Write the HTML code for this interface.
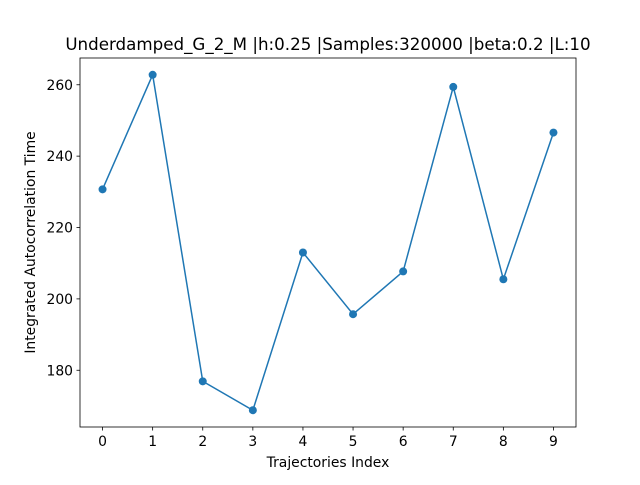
<!DOCTYPE html>
<html><head><meta charset="utf-8"><style>
body{margin:0;background:#fff}
svg text{font-family:"DejaVu Sans","Liberation Sans",sans-serif;fill:#000}
</style></head><body>
<svg id="chart" width="640" height="480" xmlns="http://www.w3.org/2000/svg">
<rect width="640" height="480" fill="#fff"/>
<text x="328" y="50" font-size="16.7" text-anchor="middle">Underdamped_G_2_M |h:0.25 |Samples:320000 |beta:0.2 |L:10</text>
<g id="ticks"></g>
<g id="series"></g>
<rect x="80" y="58" width="496" height="369" fill="none" stroke="#000" stroke-width="0.8"/>
<text x="328" y="467" font-size="13.9" text-anchor="middle">Trajectories Index</text>
<text transform="translate(35,242.5) rotate(-90)" font-size="13.9" text-anchor="middle">Integrated Autocorrelation Time</text>
</svg>
<script>
const categories=[0,1,2,3,4,5,6,7,8,9];
const values=[230.7,262.8,176.9,168.8,213.0,195.7,207.7,259.4,205.5,246.6];
const yTicks=[180,200,220,240,260];
const NS="http://www.w3.org/2000/svg";
const x0=80,x1=576,y0=58,y1=427;
const ymin=Math.min(...values),ymax=Math.max(...values),pad=(ymax-ymin)*0.05;
const ylo=ymin-pad,yhi=ymax+pad;
const xlo=-0.45,xhi=categories.length-1+0.45;
const sx=v=>x0+(v-xlo)/(xhi-xlo)*(x1-x0);
const sy=v=>y1-(v-ylo)/(yhi-ylo)*(y1-y0);
function mk(t,a,p){const e=document.createElementNS(NS,t);for(const k in a)e.setAttribute(k,a[k]);p.appendChild(e);return e;}
const tg=document.getElementById('ticks');
categories.forEach(c=>{
 const l=mk('line',{x1:sx(c),x2:sx(c),y1:y1,y2:y1+3.5,stroke:'#000','stroke-width':0.8},tg);
 
 
 const t=mk('text',{x:sx(c),y:y1+19,'font-size':13.9,'text-anchor':'middle'},tg);t.textContent=c;
 
 
});
yTicks.forEach(v=>{
 const l=mk('line',{x1:x0-3.5,x2:x0,y1:sy(v),y2:sy(v),stroke:'#000','stroke-width':0.8},tg);
 
 
 const t=mk('text',{x:x0-7,y:sy(v)+5,'font-size':13.9,'text-anchor':'end'},tg);t.textContent=v;
 
 
});
const sg=document.getElementById('series');
const pl=mk('polyline',{points:categories.map((c,i)=>sx(c)+','+sy(values[i])).join(' '),fill:'none',stroke:'#1f77b4','stroke-width':1.5},sg);


categories.forEach((c,i)=>{
 const p=mk('circle',{cx:sx(c),cy:sy(values[i]),r:4,fill:'#1f77b4'},sg);
 
 
});
</script>
</body></html>
